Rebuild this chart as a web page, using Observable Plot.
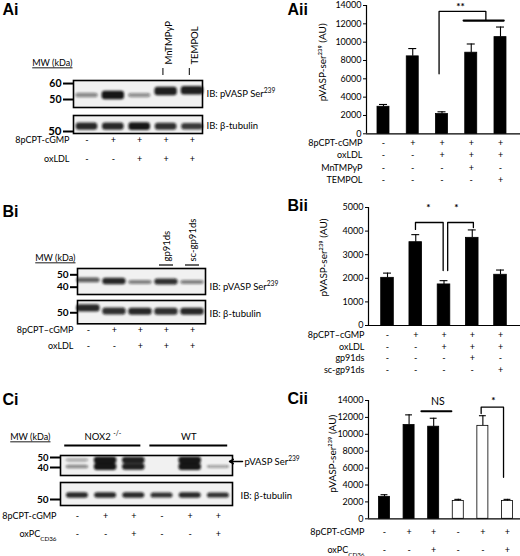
<!DOCTYPE html>
<html><head><meta charset="utf-8">
<script src="https://cdn.jsdelivr.net/npm/d3@7"></script>
<script src="https://cdn.jsdelivr.net/npm/@observablehq/plot@0.6"></script>
<style>
body{margin:0;background:#fff}
#fig{position:relative;width:520px;height:556px;overflow:hidden;background:#fff}
#fig svg{position:absolute;left:0;top:0;overflow:visible}
</style></head><body><div id="fig"></div>
<script>
// ===================== DATA =====================
// Aii bar chart
const aiiValues = [2950, 8450, 2150, 8850, 10550];
const aiiErrors = [3200, 9300, 2400, 9800, 11650];
const aiiTicks = [0, 2000, 4000, 6000, 8000, 10000, 12000, 14000];
const aiiRowLabels = ["8pCPT-cGMP", "oxLDL", "MnTMPyP", "TEMPOL"];
const aiiRowSigns = [["-","+","+","+","+"],["-","-","+","+","+"],["-","-","-","+","-"],["-","-","-","-","+"]];
const aiiBracket = [{lane:2.9,v:6550},{lane:2.9,v:13350},{lane:4.5,v:13350},{lane:4.5,v:12450}];
const aiiPairLine = [{lane:3.74,v:12350},{lane:5.11,v:12350}];
const aiiStars = [{lane:3.63,v:13900,label:"**"}];

// Bii bar chart
const biiValues = [2020, 3530, 1740, 3715, 2150];
const biiErrors = [2220, 3850, 1900, 4050, 2350];
const biiTicks = [0, 1000, 2000, 3000, 4000, 5000];
const biiRowLabels = ["8pCPT\u2013cGMP", "oxLDL", "gp91ds", "sc-gp91ds"];
const biiRowSigns = [["-","+","+","+","+"],["-","-","+","+","+"],["-","-","-","+","-"],["-","-","-","-","+"]];
const biiBracketL = [{lane:1.99,v:4070},{lane:1.99,v:4365},{lane:2.97,v:4365},{lane:2.97,v:2330}];
const biiBracketR = [{lane:3.13,v:2330},{lane:3.13,v:4365},{lane:4.04,v:4365},{lane:4.04,v:4150}];
const biiStars = [{lane:2.45,v:4980,label:"*"},{lane:3.44,v:4980,label:"*"}];

// Cii bar chart
const ciiValues = [2600, 11100, 10900, 2100, 11000, 2100];
const ciiErrors = [2850, 12300, 11900, 2300, 12200, 2300];
const ciiGroups = ["NOX2", "NOX2", "NOX2", "WT", "WT", "WT"];
const ciiTicks = [0, 2000, 4000, 6000, 8000, 10000, 12000, 14000];
const ciiRowLabels = ["8pCPT-cGMP", "oxPC_CD36"];
const ciiRowSigns = [["-","+","+","-","+","+"],["-","-","+","-","-","+"]];
const ciiNSLine = [{lane:2.5,v:12730},{lane:3.72,v:12730}];
const ciiNSText = [{lane:3.17,v:13900,label:"NS"}];
const ciiBracket = [{lane:4.93,v:12460},{lane:4.93,v:13210},{lane:5.84,v:13210},{lane:5.84,v:4920}];
const ciiStars = [{lane:5.43,v:13950,label:"*"}];

// shared y-axis title
const yTitle = "pVASP-ser\u00b2\u00b3\u2079 (AU)";

// Ai western blot
const aiTreatLabels = ["8pCPT-cGMP", "oxLDL"];
const aiTreatSigns = [["-","+","+","+","+"],["-","-","+","+","+"]];
const aiLaneHeaders = ["", "", "", "MnTMPyP", "TEMPOL"];
const aiPvaspIntensity = [0.3, 0.95, 0.25, 0.9, 0.9];
const aiPvaspKDa = [52.5, 52.5, 52.5, 55, 55.5];
const aiPvaspMarkers = [60, 50];
const aiTubIntensity = [0.85, 0.85, 0.95, 0.8, 0.75];
const aiTubKDa = [53, 53, 53, 53, 53];
const aiTubMarkers = [50];

// Bi western blot
const biTreatLabels = ["8pCPT\u2013cGMP", "oxLDL"];
const biTreatSigns = [["-","+","+","+","+"],["-","-","+","+","+"]];
const biLaneHeaders = ["", "", "", "gp91ds", "sc-gp91ds"];
const biPvaspIntensity = [0.55, 0.85, 0.35, 0.8, 0.35];
const biPvaspKDa = [45.5, 44.6, 43.8, 44.2, 43.8];
const biPvaspMarkers = [50, 40];
const biTubIntensity = [0.85, 0.8, 0.85, 0.8, 0.85];
const biTubKDa = [53.5, 51, 50.8, 50.8, 50.8];
const biTubMarkers = [50];

// Ci western blot
const ciTreatLabels = ["8pCPT-cGMP", "oxPC_CD36"];
const ciTreatSigns = [["-","+","+","-","+","+"],["-","-","+","-","-","+"]];
const ciGroupLabels = [{label:"NOX2 ^-/-", from:0.55, to:3.25},{label:"WT", from:3.57, to:6.33}];
const ciUpperIntensity = [0.15, 0.95, 0.9, 0, 0.95, 0];
const ciLowerIntensity = [0.3, 0.95, 0.9, 0, 0.95, 0.15];
const ciUpperKDa = 47, ciLowerKDa = 40.5;
const ciPvaspMarkers = [50, 40];
const ciTubIntensity = [0.85, 0.85, 0.85, 0.8, 0.85, 0.8];
const ciTubKDa = 54;
const ciTubMarkers = [50];

// ===================== RENDER =====================
const FONT = "Lato, 'Open Sans', 'DejaVu Sans', sans-serif";
const BOLD = "'Liberation Sans', Arial, sans-serif";
const W = 520, H = 556;
const fig = document.getElementById("fig");

function place(frame, x, y, marks) {
  const [x0, y0, x1, y1] = frame;
  const svg = Plot.plot({
    width: W, height: H,
    marginLeft: x0, marginRight: W - x1, marginTop: y0, marginBottom: H - y1,
    x, y,
    style: {background: "transparent", fontFamily: FONT, fontSize: "9px", color: "#000", overflow: "visible"},
    marks
  });
  fig.appendChild(svg);
  return svg;
}

function panelLabel(text, dx, dy) {
  return Plot.text([text], {frameAnchor: "top-left", dx, dy, textAnchor: "start", lineAnchor: "top",
    fontFamily: BOLD, fontWeight: "bold", fontSize: 16});
}

function barChart(c) {
  const data = c.values.map((v, i) => ({lane: i + 1, value: v, err: c.errors[i], fill: c.fills[i]}));
  const marks = [
    Plot.rect(data, {x1: d => d.lane - c.hw, x2: d => d.lane + c.hw, y1: 0, y2: "value", fill: d => d.fill, stroke: "#000", strokeWidth: 0.8}),
    Plot.ruleX(data, {x: "lane", y1: "value", y2: "err", strokeWidth: 1.1}),
    Plot.ruleY(data, {y: "err", x1: d => d.lane - c.cap, x2: d => d.lane + c.cap, strokeWidth: 1.1}),
    Plot.ruleY([0], {strokeWidth: 1.2}),
    Plot.ruleX([c.xDomain[0]], {strokeWidth: 1.2}),
    Plot.text([yTitle], {x: c.xDomain[0], y: c.yTitleAt, rotate: -90, dx: c.yLabelDx, textAnchor: "middle", fontSize: 10}),
    panelLabel(c.panel, c.panelDx, c.panelDy)
  ];
  c.rowLabels.forEach((lab, k) => {
    const dy = c.rowDy0 + k * c.rowStep;
    marks.push(Plot.text(c.rowSigns[k], {x: (d, i) => i + 1, text: d => d, frameAnchor: "bottom", dy, lineAnchor: "middle", fontSize: 9}));
    marks.push(Plot.text([lab], {frameAnchor: "bottom-left", dx: -4, dy, textAnchor: "end", lineAnchor: "middle", fontSize: 9}));
  });
  marks.push(...c.extra);
  return place(c.frame, {domain: c.xDomain, axis: null},
    {domain: [0, c.yMax], ticks: c.ticks, tickSize: 3, tickPadding: 2, tickFormat: d => String(d), label: null}, marks);
}

const blotSvgs = [];
function blot(c) {
  const [x0, y0, x1, y1] = c.box;
  const step = (x1 - x0) / (c.xDomain[1] - c.xDomain[0]);
  const ppk = (y1 - y0) / (c.kTop - c.kBottom);
  const bands = c.bands.filter(b => b.intensity > 0).map(b => ({...b, h: c.bandH * (0.3 + 0.7 * b.intensity) / ppk / 2}));
  const marks = [
    Plot.frame({fill: "#f1f1f1", stroke: "none"}),
    Plot.rect(bands, {x1: b => b.lane - c.bandW / 2, x2: b => b.lane + c.bandW / 2, y1: b => b.kda - b.h, y2: b => b.kda + b.h,
      fill: "#111", fillOpacity: b => 0.25 + 0.75 * b.intensity, rx: 3}),
    Plot.frame({stroke: "#000", strokeWidth: 1.6}),
    Plot.ruleY(c.markers, {y: d => d, x1: c.xDomain[0] - c.tickPx / step, x2: c.xDomain[0], strokeWidth: 2}),
    Plot.text(c.markers, {y: d => d, x: c.xDomain[0] - c.tickPx / step, dx: -2, text: d => String(d), textAnchor: "end", fontSize: c.markerSize, fontWeight: "bold"})
  ];
  if (c.ib) marks.push(Plot.text([c.ib], {frameAnchor: "right", dx: c.ibDx ?? 4, dy: c.ibDy ?? 0, textAnchor: "start", fontSize: 9.5}));
  if (c.rows) c.rows.labels.forEach((lab, k) => {
    const dy = c.rows.dy0 + k * c.rows.step;
    marks.push(Plot.text(c.rows.signs[k], {x: (d, i) => i + 1, text: d => d, frameAnchor: "bottom", dy, lineAnchor: "middle", fontSize: 9}));
    marks.push(Plot.text([lab], {frameAnchor: "bottom-left", dx: -4, dy, textAnchor: "end", lineAnchor: "middle", fontSize: 9}));
  });
  if (c.extra) marks.push(...c.extra({step, ppk, kTop: c.kTop, xDomain: c.xDomain}));
  const svg = place(c.box, {domain: c.xDomain, axis: null}, {domain: [c.kBottom, c.kTop], axis: null}, marks);
  blotSvgs.push(svg);
  return svg;
}

const lanesOf = (intens, kdas) => intens.map((v, i) => ({lane: i + 1, intensity: v, kda: Array.isArray(kdas) ? kdas[i] : kdas}));
const headersOf = arr => arr.map((label, i) => ({lane: i + 1, label})).filter(d => d.label);

// ---- Aii ----
barChart({
  frame: [366, 5, 520, 133.3], xDomain: [0.419, 5.684], yMax: 14000, ticks: aiiTicks,
  values: aiiValues, errors: aiiErrors, fills: aiiValues.map(() => "black"), hw: 0.205, cap: 0.137,
  rowLabels: aiiRowLabels, rowSigns: aiiRowSigns, rowDy0: 9.5, rowStep: 12.3,
  yLabelDx: -44, yTitleAt: 7800, panel: "Aii", panelDx: -79, panelDy: -2,
  extra: [
    Plot.line(aiiBracket, {x: "lane", y: "v", strokeWidth: 1.3}),
    Plot.line(aiiPairLine, {x: "lane", y: "v", strokeWidth: 2.2}),
    Plot.text(aiiStars, {x: "lane", y: "v", text: "label", fontSize: 10, fontWeight: "bold"})
  ]
});

// ---- Bii ----
barChart({
  frame: [368, 207, 520, 325], xDomain: [0.327, 5.708], yMax: 5000, ticks: biiTicks,
  values: biiValues, errors: biiErrors, fills: biiValues.map(() => "black"), hw: 0.223, cap: 0.14,
  rowLabels: biiRowLabels, rowSigns: biiRowSigns, rowDy0: 10, rowStep: 11.5,
  yLabelDx: -45, yTitleAt: 2880, panel: "Bii", panelDx: -81, panelDy: -8,
  extra: [
    Plot.line(biiBracketL, {x: "lane", y: "v", strokeWidth: 1.3}),
    Plot.line(biiBracketR, {x: "lane", y: "v", strokeWidth: 1.3}),
    Plot.text(biiStars, {x: "lane", y: "v", text: "label", fontSize: 10, fontWeight: "bold"})
  ]
});

// ---- Cii ----
barChart({
  frame: [368, 400, 520, 518.3], xDomain: [0.35, 6.53], yMax: 14000, ticks: ciiTicks,
  values: ciiValues, errors: ciiErrors, fills: ciiGroups.map(g => g === "WT" ? "white" : "black"), hw: 0.224, cap: 0.14,
  rowLabels: ciiRowLabels, rowSigns: ciiRowSigns, rowDy0: 13.4, rowStep: 17.6,
  yLabelDx: -36, yTitleAt: 7700, panel: "Cii", panelDx: -81, panelDy: -8,
  extra: [
    Plot.line(ciiNSLine, {x: "lane", y: "v", strokeWidth: 2}),
    Plot.text(ciiNSText, {x: "lane", y: "v", text: "label", fontSize: 10.5}),
    Plot.line(ciiBracket, {x: "lane", y: "v", strokeWidth: 1.3}),
    Plot.text(ciiStars, {x: "lane", y: "v", text: "label", fontSize: 10, fontWeight: "bold"})
  ]
});

// ---- Ai blots ----
blot({
  box: [73, 80, 202, 107], xDomain: [0.49, 5.38], kTop: 61.9, kBottom: 45,
  bands: lanesOf(aiPvaspIntensity, aiPvaspKDa), bandW: 0.85, bandH: 9,
  markers: aiPvaspMarkers, markerSize: 10.5, tickPx: 10, ib: "IB: pVASP Ser^239",
  extra: ({ppk, kTop}) => [
    panelLabel("Ai", -71, -77),
    Plot.text(["MW (kDa)"], {frameAnchor: "top-left", dx: -1, dy: -17, textAnchor: "end", lineAnchor: "middle", fontSize: 9}),
    Plot.text(headersOf(aiLaneHeaders), {x: d => d.lane + 0.1, text: "label", frameAnchor: "top", dy: -16, rotate: -90, textAnchor: "start", lineAnchor: "middle", fontSize: 9.5}),
    Plot.ruleX(headersOf(aiLaneHeaders), {x: d => d.lane - 0.12, y1: kTop + 5 / ppk, y2: kTop + 12 / ppk, strokeWidth: 1})
  ]
});
blot({
  box: [73, 115, 202, 133], xDomain: [0.49, 5.38], kTop: 60, kBottom: 48.75,
  bands: lanesOf(aiTubIntensity, aiTubKDa), bandW: 0.82, bandH: 8,
  markers: aiTubMarkers, markerSize: 11.5, tickPx: 10, ib: "IB: \u03b2-tubulin", ibDy: 1.5,
  rows: {labels: aiTreatLabels, signs: aiTreatSigns, dy0: 6.5, step: 19}
});

// ---- Bi blots ----
blot({
  box: [77, 268, 205, 294], xDomain: [0.58, 5.5], kTop: 55.1, kBottom: 34.1,
  bands: lanesOf(biPvaspIntensity, biPvaspKDa), bandW: 0.9, bandH: 7,
  markers: biPvaspMarkers, markerSize: 10, tickPx: 7, ib: "IB: pVASP Ser^239", ibDy: 5,
  extra: ({ppk, kTop}) => [
    panelLabel("Bi", -75, -63),
    Plot.text(["MW (kDa)"], {frameAnchor: "top-left", dx: -2, dy: -10, textAnchor: "end", lineAnchor: "middle", fontSize: 9}),
    Plot.text(headersOf(biLaneHeaders), {x: "lane", text: "label", frameAnchor: "top", dy: -7, rotate: -90, textAnchor: "start", lineAnchor: "middle", fontSize: 9.5}),
    Plot.ruleY(headersOf(biLaneHeaders), {x1: d => d.lane - 0.27, x2: d => d.lane + 0.27, y: kTop + 3.5 / ppk, strokeWidth: 1.2})
  ]
});
blot({
  box: [77, 300, 205, 323.3], xDomain: [0.58, 5.5], kTop: 59.9, kBottom: 41.1,
  bands: lanesOf(biTubIntensity, biTubKDa), bandW: 0.9, bandH: 8,
  markers: biTubMarkers, markerSize: 10, tickPx: 7, ib: "IB: \u03b2-tubulin", ibDy: 1.5,
  rows: {labels: biTreatLabels, signs: biTreatSigns, dy0: 6.5, step: 16}
});

// ---- Ci blots ----
blot({
  box: [60, 455, 232, 475], xDomain: [0.4, 6.5], kTop: 52, kBottom: 32,
  bands: [...lanesOf(ciUpperIntensity, ciUpperKDa), ...lanesOf(ciLowerIntensity, ciLowerKDa)], bandW: 0.8, bandH: 7,
  markers: ciPvaspMarkers, markerSize: 9.5, tickPx: 10,
  extra: ({step, ppk, kTop, xDomain}) => [
    panelLabel("Ci", -58, -62),
    Plot.text(["MW (kDa)"], {frameAnchor: "top-left", dx: -10, dy: -18, textAnchor: "end", lineAnchor: "middle", fontSize: 9}),
    Plot.ruleY(ciGroupLabels, {x1: "from", x2: "to", y: kTop + 10 / ppk, strokeWidth: 2}),
    Plot.text(ciGroupLabels, {x: d => (d.from + d.to) / 2, text: "label", frameAnchor: "top", dy: -22, fontSize: 9.5}),
    Plot.arrow([0], {x1: xDomain[1] + 10 / step, x2: xDomain[1] - 3 / step, y1: 46, y2: 46, headLength: 5, strokeWidth: 1.5}),
    Plot.text(["pVASP Ser^239"], {x: xDomain[1] + 11 / step, y: 46, dx: 1, textAnchor: "start", fontSize: 9.5})
  ]
});
blot({
  box: [60, 482, 232, 505], xDomain: [0.4, 6.5], kTop: 67, kBottom: 44,
  bands: lanesOf(ciTubIntensity, ciTubKDa), bandW: 0.78, bandH: 6,
  markers: ciTubMarkers, markerSize: 10, tickPx: 10, ib: "IB: \u03b2-tubulin", ibDx: 8, ibDy: 1.5,
  rows: {labels: ciTreatLabels, signs: ciTreatSigns, dy0: 11, step: 18}
});

// ===================== POST-PROCESS =====================
const NS = "http://www.w3.org/2000/svg";
function addTspan(t, s) { const ts = document.createElementNS(NS, "tspan"); ts.textContent = s; t.appendChild(ts); return ts; }
fig.querySelectorAll("text").forEach(t => {
  if (t.querySelector("tspan")) return;
  const s = t.textContent;
  if (s === "MW (kDa)") { t.setAttribute("text-decoration", "underline"); return; }
  if (!/[\^_]/.test(s)) return;
  t.textContent = "";
  const re = /([\^_])([^\s()]+)/g; let last = 0, m;
  while ((m = re.exec(s))) {
    if (m.index > last) addTspan(t, s.slice(last, m.index));
    const ts = addTspan(t, m[2]);
    ts.setAttribute("baseline-shift", m[1] === "^" ? "super" : "sub");
    ts.setAttribute("font-size", "70%");
    last = re.lastIndex;
  }
  if (last < s.length) addTspan(t, s.slice(last));
});
blotSvgs.forEach((svg, i) => {
  const defs = document.createElementNS(NS, "defs");
  const f = document.createElementNS(NS, "filter");
  f.setAttribute("id", "bandblur" + i);
  f.setAttribute("x", "-20%"); f.setAttribute("y", "-100%"); f.setAttribute("width", "140%"); f.setAttribute("height", "300%");
  const g = document.createElementNS(NS, "feGaussianBlur");
  g.setAttribute("stdDeviation", "0.9");
  f.appendChild(g); defs.appendChild(f); svg.insertBefore(defs, svg.firstChild);
  const r = svg.querySelector('g[aria-label="rect"]');
  if (r) r.setAttribute("filter", `url(#bandblur${i})`);
});
</script></body></html>
